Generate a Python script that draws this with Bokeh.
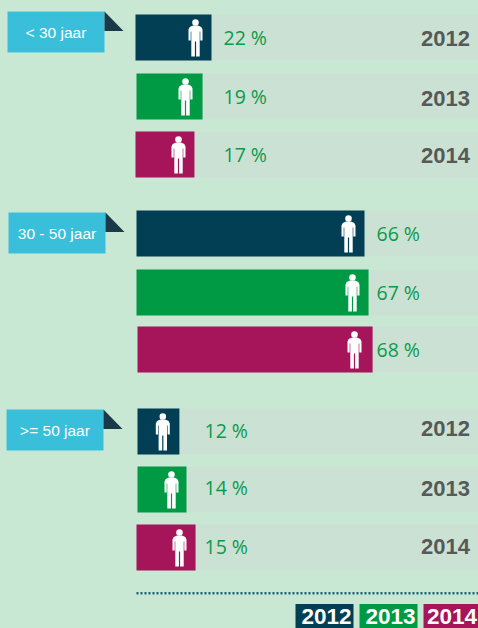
from bokeh.plotting import figure
from bokeh.models import Range1d
from bokeh.core.properties import value
from bokeh.embed import file_html
from bokeh.resources import INLINE

# ---- data
groups = ["< 30 jaar", "30 - 50 jaar", ">= 50 jaar"]
years = ["2012", "2013", "2014"]
pct_young = [22, 19, 17]
pct_middle = [66, 67, 68]
pct_old = [12, 14, 15]
series = [pct_young, pct_middle, pct_old]

# ---- colours
BG = "#c8e8d4"
TRACK = "#cbe1d4"
YEAR_COL = ["#023f55", "#009a44", "#a6145a"]
TAG = "#3abfda"
FOLD = "#1a3a4a"
PCT = "#0c9a4a"
GREY = "#555a58"

# ---- layout (pixels)
W, H = 478, 628
PX = 3.45           # px per percent
X0 = 135.5          # x of 0 %
ROW_TOPS = [[14, 73, 131], [210, 269, 326], [408, 466, 524]]
ROW_LEFT = [[135, 136, 135], [136, 136, 137], [137, 137, 136]]
END_ADJ = [[-0.4, 1, -0.2], [0.8, 1.4, 2], [2, 2.2, 7.8]]
ICON_X = [[195, 185, 178], [348, 352, 354], [162.3, 171, 179]]
PCT_X = [223, 376, 204]
PCT_Y = [[37, 96, 154], [233, 292, 349], [430, 487, 546]]
YEAR_Y = [[38, 98, 155], None, [428, 488, 546]]
ROW_H = 46
TAGS = [(7, 11), (8, 212), (6, 409)]

p = figure(width=W, height=H, output_backend="svg", toolbar_location=None,
           x_range=Range1d(-X0 / PX, (W - X0) / PX), y_range=Range1d(H, 0),
           min_border=0, outline_line_color=None, background_fill_color=BG,
           border_fill_color=BG)
p.axis.visible = False
p.grid.visible = False


def px(x):
    return (x - X0) / PX


# person icon outline, px offsets from centre / top
BODY = [(-2.5, 6), (2.5, 6), (5.8, 7.5), (7, 10), (7, 21), (4.8, 21), (4.8, 12), (4.2, 12), (4.2, 37),
        (0.6, 37), (0.6, 22), (-0.6, 22), (-0.6, 37), (-4.2, 37), (-4.2, 12), (-4.8, 12), (-4.8, 21),
        (-7, 21), (-7, 10), (-5.8, 7.5)]

for g, vals in enumerate(series):
    for i, v in enumerate(vals):
        top = ROW_TOPS[g][i]
        left = ROW_LEFT[g][i]
        p.quad(left=[px(left)], right=[(W - X0) / PX], top=[top], bottom=[top + ROW_H],
               fill_color=TRACK, line_color=None)
        p.quad(left=[px(left)], right=[v + END_ADJ[g][i] / PX], top=[top], bottom=[top + ROW_H],
               fill_color=YEAR_COL[i], line_color=None)
        cx = ICON_X[g][i]
        p.patch([px(cx + dx) for dx, _ in BODY], [top + 5 + dy for _, dy in BODY],
                fill_color="white", line_color=None)
        p.ellipse([px(cx)], [top + 8], width=[6.6 / PX], height=[6.6], fill_color="white", line_color=None)
        p.text([px(PCT_X[g])], [PCT_Y[g][i]], text=[f"{v} %"], text_color=PCT,
               text_font=value("Open Sans"), text_font_size="19.5px", text_font_style="normal",
               text_align="left", text_baseline="middle")
        if YEAR_Y[g]:
            p.text([px(469.5)], [YEAR_Y[g][i]], text=[years[i]], text_color=GREY,
                   text_font=value("Liberation Sans"), text_font_size="22px", text_font_style="bold",
                   text_align="right", text_baseline="middle")

# age tags
for name, (tx, ty) in zip(groups, TAGS):
    p.quad(left=[px(tx)], right=[px(tx + 97)], top=[ty], bottom=[ty + 41], fill_color=TAG, line_color=None)
    p.patch([px(tx + 97), px(tx + 116), px(tx + 97)], [ty, ty + 19.5, ty + 19.5], fill_color=FOLD, line_color=None)
    p.text([px(tx + 48.5)], [ty + 20.5], text=[name], text_color="white",
           text_font=value("Liberation Sans"), text_font_size="15.5px",
           text_align="center", text_baseline="middle")

# dotted rule
p.line([px(136), px(478)], [592.8, 592.8], line_color="#1f6175", line_width=2.5, line_dash="2 2")

# legend
LEG = [(295, 58, 326), (359, 58, 390), (423, 55, 451.5)]
for y, c, (lx, lw, tc) in zip(years, YEAR_COL, LEG):
    p.quad(left=[px(lx)], right=[px(lx + lw)], top=[603.5], bottom=[628], fill_color=c, line_color=None)
    p.text([px(tc)], [615.5], text=[y], text_color="white",
           text_font=value("Liberation Sans"), text_font_size="22.5px", text_font_style="bold",
           text_align="center", text_baseline="middle")

html = file_html(p, INLINE)
html = html.replace("<head>", "<head><style>html,body{margin:0;padding:0;overflow:hidden;background:%s}</style>" % BG, 1)
open("out.html", "w").write(html)
